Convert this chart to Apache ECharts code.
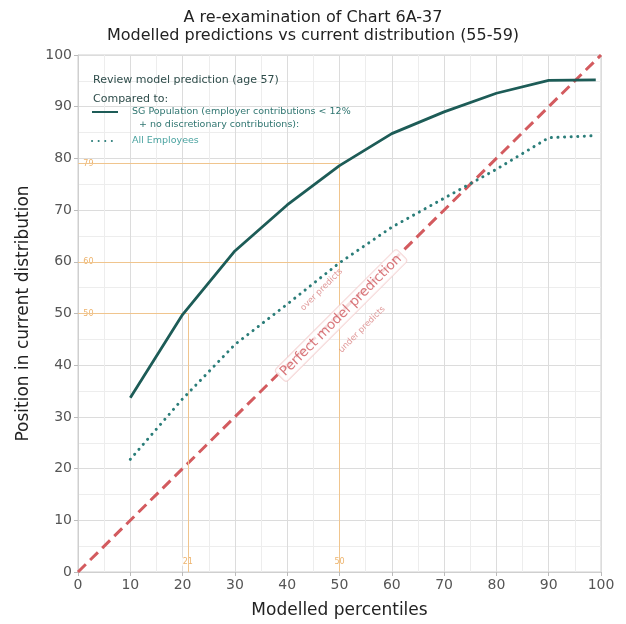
<!DOCTYPE html>
<html>
<head>
<meta charset="utf-8">
<script src="https://cdn.jsdelivr.net/npm/echarts@6/dist/echarts.min.js"></script>
<style>
  html, body { margin: 0; padding: 0; background: #fff; }
  #chart { width: 626px; height: 624px; }
</style>
</head>
<body>
<div id="chart"></div>
<script>
// modelled percentiles (x) and position in current distribution (y)
var percentiles = [10, 20, 30, 40, 50, 60, 70, 80, 90, 99]
var sgPopulation = [33.7, 49.8, 62.1, 71.0, 78.6, 84.8, 89.0, 92.6, 95.1, 95.2]
var allEmployees = [21.8, 33.5, 44.0, 51.8, 59.8, 66.7, 72.3, 77.9, 84.0, 84.4]
var perfectLine = [[0, 0], [100, 100]]

// reference guides: [x, y] where the guide lines meet
var refPoints = [[21, 50], [50, 60], [50, 79]]

var FONT = 'DejaVu Sans'
var teal = '#1d5c57'
var tealDot = '#2b7d79'
var red = '#d35b5f'
var orange = '#f0c58e'

function zip(xs, ys) {
  var out = []
  for (let i = 0; i < xs.length; i++) out.push([xs[i], ys[i]])
  return out
}

// guide lines from each axis to the curve
var guideLines = []
var guideLabels = []
refPoints.forEach(function (p) {
  guideLines.push([{ coord: [0, p[1]] }, { coord: [p[0], p[1]] }])
  guideLabels.push({ value: [2, p[1]], label: { formatter: String(p[1]) } })
})
var verticals = [[21, 50], [50, 79]]
verticals.forEach(function (p) {
  guideLines.push([{ coord: [p[0], 0] }, { coord: [p[0], p[1]] }])
  guideLabels.push({ value: [p[0], 2], label: { formatter: String(p[0]) } })
})

var sgName = 'SG Population (employer contributions < 12%'

var chart = echarts.init(document.getElementById('chart'))
var option = {
  backgroundColor: '#fff',
  animation: false,
  textStyle: { fontFamily: FONT },
  title: [
    {
      text: 'A re-examination of Chart 6A-37\nModelled predictions vs current distribution (55-59)',
      left: 'center',
      top: 4,
      textStyle: { fontFamily: FONT, fontSize: 16, fontWeight: 'normal', color: '#222', lineHeight: 18 }
    },
    {
      text: 'Review model prediction (age 57)\nCompared to:',
      left: 88,
      top: 66,
      textStyle: { fontFamily: FONT, fontSize: 11, fontWeight: 'normal', color: '#2f4d4b', lineHeight: 19 }
    },
    {
      text: ' + no discretionary contributions):',
      left: 131,
      top: 115,
      textStyle: { fontFamily: FONT, fontSize: 9.5, fontWeight: 'normal', color: '#2f7570' }
    }
  ],
  legend: {
    orient: 'vertical',
    left: 86,
    top: 102,
    itemWidth: 26,
    itemHeight: 10,
    itemGap: 19,
    itemStyle: { opacity: 0 },
    textStyle: { fontFamily: FONT, fontSize: 9.5, padding: [0, 0, 0, 9] },
    data: [
      { name: sgName, textStyle: { color: '#2f7570' } },
      { name: 'All Employees', textStyle: { color: '#4aa3a0' } }
    ]
  },
  grid: {
    left: 78,
    right: 25,
    top: 55,
    bottom: 49,
    show: true,
    borderColor: '#cfcfcf',
    borderWidth: 1
  },
  xAxis: {
    type: 'value',
    min: 0,
    max: 100,
    interval: 10,
    name: 'Modelled percentiles',
    nameLocation: 'middle',
    nameGap: 30,
    nameTextStyle: { fontFamily: FONT, fontSize: 17, color: '#222' },
    axisLine: { lineStyle: { color: '#cfcfcf' } },
    axisTick: { show: true, length: 4, lineStyle: { color: '#bbb' } },
    axisLabel: { fontFamily: FONT, fontSize: 14, color: '#555', margin: 6 },
    splitLine: { lineStyle: { color: '#dcdcdc' } },
    minorTick: { show: false, splitNumber: 2 },
    minorSplitLine: { show: true, lineStyle: { color: '#ededed' } }
  },
  yAxis: {
    type: 'value',
    min: 0,
    max: 100,
    interval: 10,
    name: 'Position in current distribution',
    nameLocation: 'middle',
    nameGap: 46,
    nameTextStyle: { fontFamily: FONT, fontSize: 17, color: '#222' },
    axisLine: { show: true, lineStyle: { color: '#cfcfcf' } },
    axisTick: { show: true, length: 4, lineStyle: { color: '#bbb' } },
    axisLabel: { fontFamily: FONT, fontSize: 14, color: '#555', margin: 6 },
    splitLine: { lineStyle: { color: '#dcdcdc' } },
    minorTick: { show: false, splitNumber: 2 },
    minorSplitLine: { show: true, lineStyle: { color: '#ededed' } }
  },
  series: [
    {
      name: 'guides',
      type: 'line',
      data: [],
      silent: true,
      markLine: {
        symbol: 'none',
        silent: true,
        label: { show: false },
        lineStyle: { color: orange, width: 1, type: 'solid' },
        data: guideLines
      }
    },
    {
      name: 'guideLabels',
      type: 'scatter',
      symbolSize: 0,
      silent: true,
      z: 4,
      label: {
        show: true,
        position: 'inside',
        fontFamily: FONT,
        fontSize: 8,
        color: '#e8a048',
        backgroundColor: '#fff',
        padding: [0, 1]
      },
      data: guideLabels
    },
    {
      name: 'Perfect model prediction',
      type: 'line',
      data: perfectLine,
      symbol: 'none',
      z: 3,
      lineStyle: { color: red, width: 3, type: [11, 6] }
    },
    {
      name: 'perfectLabel',
      type: 'scatter',
      symbolSize: 0,
      silent: true,
      z: 6,
      data: [
        {
          value: [50.3, 49.6],
          label: {
            formatter: 'Perfect model prediction',
            fontSize: 13.5,
            color: '#d0585c',
            backgroundColor: '#fff',
            borderColor: '#f3cccc',
            borderWidth: 1,
            borderRadius: 3,
            padding: [1, 3]
          }
        },
        { value: [46.6, 54.6], label: { formatter: 'over predicts', fontSize: 8.5, color: '#d88080' } },
        { value: [54.3, 46.9], label: { formatter: 'under predicts', fontSize: 8.5, color: '#d88080' } }
      ],
      label: { show: true, position: 'inside', rotate: 45, fontFamily: FONT }
    },
    {
      name: sgName,
      type: 'line',
      data: zip(percentiles, sgPopulation),
      symbol: 'none',
      z: 5,
      color: teal,
      lineStyle: { color: teal, width: 2.8 }
    },
    {
      name: 'All Employees',
      type: 'line',
      data: zip(percentiles, allEmployees),
      symbol: 'none',
      z: 5,
      color: tealDot,
      lineStyle: { color: tealDot, width: 3, type: [0.1, 6.5], cap: 'round' }
    }
  ]
}
chart.setOption(option)
</script>
</body>
</html>
